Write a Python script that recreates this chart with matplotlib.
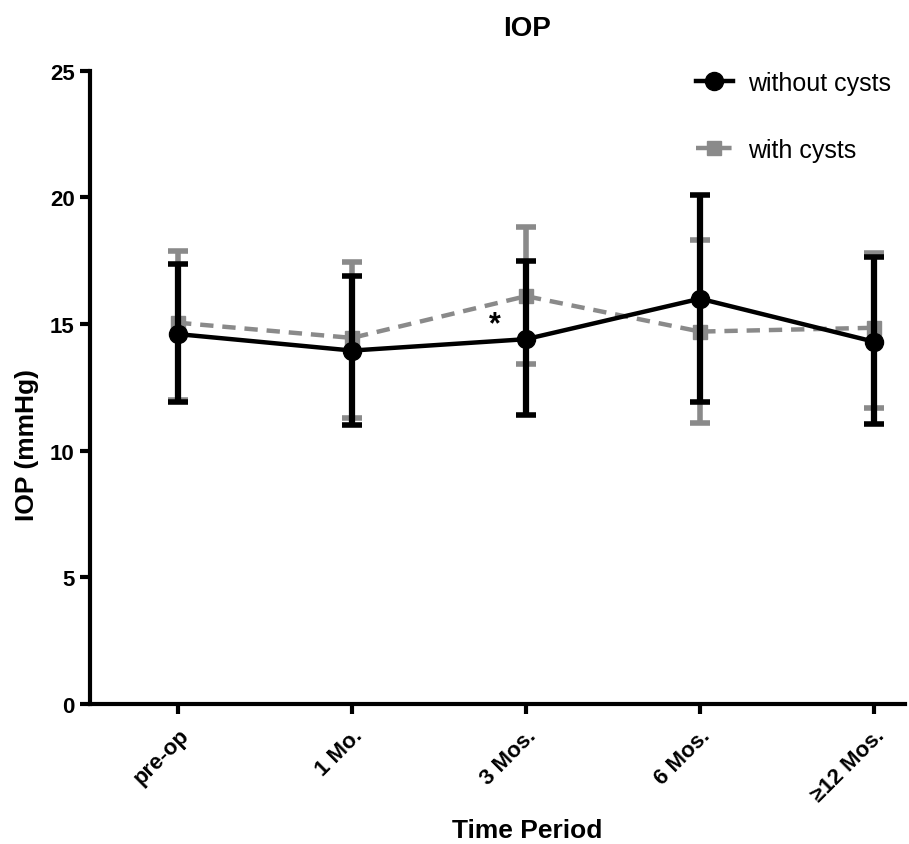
# -*- coding: utf-8 -*-
# IOP over time, with / without cysts

import numpy as np
import matplotlib.pyplot as plt
from matplotlib.lines import Line2D

plt.rcParams['font.family'] = ['Liberation Sans', 'DejaVu Sans']

periods = ['pre-op', '1 Mo.', '3 Mos.', '6 Mos.', u'\u226512 Mos.']

# without cysts
mean_no   = [14.6, 13.95, 14.4, 16.0, 14.3]
upper_no  = [17.35, 16.9, 17.5, 20.1, 17.65]
lower_no  = [11.9, 11.0, 11.4, 11.9, 11.05]

# with cysts
mean_yes  = [15.05, 14.45, 16.1, 14.7, 14.85]
upper_yes = [17.9, 17.45, 18.85, 18.3, 17.8]
lower_yes = [12.0, 11.3, 13.4, 11.1, 11.7]

x = np.arange(len(periods))
gray = '#8a8a8a'

fig1 = plt.figure(figsize=(9.09, 8.45), dpi=100)
ax1 = fig1.add_axes([0.099, 0.166, 0.897, 0.749])

err_yes = [np.array(mean_yes) - np.array(lower_yes), np.array(upper_yes) - np.array(mean_yes)]
err_no  = [np.array(mean_no) - np.array(lower_no), np.array(upper_no) - np.array(mean_no)]

ax1.errorbar(x, mean_yes, yerr=err_yes, color=gray, ls='--', lw=3.2, dashes=(3, 2),
             marker='s', ms=10, capsize=7, capthick=4, elinewidth=4, zorder=2)
ax1.errorbar(x, mean_no, yerr=err_no, color='k', ls='-', lw=3.2,
             marker='o', ms=13, capsize=7, capthick=4, elinewidth=4.5, zorder=3)

ax1.text(2 - 0.18, 15.0, '*', fontsize=22, fontweight='bold', ha='center', va='center')

ax1.set_xlim(-0.506, 4.18)
ax1.set_ylim(0, 25)
ax1.set_yticks([0, 5, 10, 15, 20, 25])
ax1.set_xticks(x)
ax1.set_xticklabels(periods, rotation=45, ha='right', rotation_mode='anchor',
                    fontsize=16, fontweight='bold')
for lab in ax1.get_yticklabels():
    lab.set_fontweight('bold')
    lab.set_fontsize(16)

for side in ['top', 'right']:
    ax1.spines[side].set_visible(False)
for side in ['left', 'bottom']:
    ax1.spines[side].set_linewidth(3)
ax1.tick_params(axis='both', width=3, length=7, direction='out', pad=4)
ax1.tick_params(axis='x', pad=8)

ax1.set_title('IOP', fontsize=20, fontweight='bold', pad=26, x=0.536)
ax1.set_ylabel('IOP (mmHg)', fontsize=19, fontweight='bold')
ax1.yaxis.set_label_coords(-0.062, 0.41)
ax1.set_xlabel('Time Period', fontsize=19, fontweight='bold')
ax1.xaxis.set_label_coords(0.536, -0.18)

h_no  = Line2D([], [], color='k', ls='-', lw=3.2, marker='o', ms=13)
h_yes = Line2D([], [], color=gray, ls='--', lw=3.2, dashes=(3, 2), marker='s', ms=10)
leg = ax1.legend([h_no, h_yes], ['without cysts', 'with cysts'], loc='upper right',
                 bbox_to_anchor=(1.01, 1.035), frameon=False, fontsize=18,
                 labelspacing=1.7, handlelength=1.5, handletextpad=0.6)

plt.savefig('out.png', format='png', dpi=100)
